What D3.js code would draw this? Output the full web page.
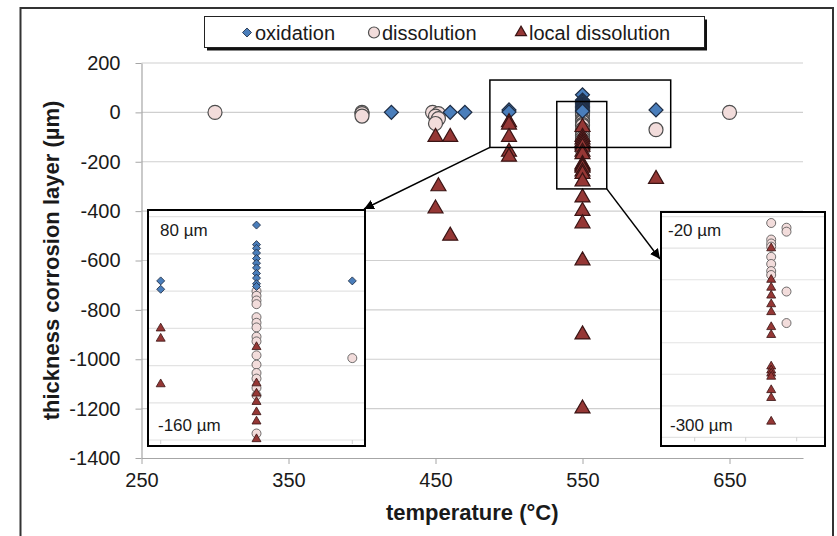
<!DOCTYPE html>
<html>
<head>
<meta charset="utf-8">
<script src="https://cdn.jsdelivr.net/npm/d3@7"></script>
<style>
  body { margin:0; background:#fff; }
  text { font-family:"Liberation Sans", Arial, sans-serif; fill:#1a1a1a; }
</style>
</head>
<body>
<div id="chart"></div>
<script>
// main chart data: [temperature °C, thickness µm]
var oxidation = [[420,0],[460,0],[470,0],[500,10],[500,2],[550,71],[550,50],[550,46],[550,41],[550,35],
  [550,30],[550,25],[550,19],[550,14],[550,8],[550,5],[600,10]];
var dissolution = [[300,0],[400,0],[400,-5],[400,-15],[448,0],[452,-5],[450,-15],[452,-25],[450,-45],
  [550,0],[550,-5],[550,-10],[550,-14],[550,-28],[550,-34],[550,-39],[550,-49],[550,-54],[550,-69],
  [550,-79],[550,-88],[550,-94],[550,-104],[550,-112],[550,-153],[600,-70],[650,0]];
var localDissolution = [[450,-100],[460,-100],[452,-300],[450,-390],[460,-500],
  [500,-40],[500,-50],[500,-100],[500,-160],[500,-180],
  [550,-60],[550,-100],[550,-110],[550,-120],[550,-130],[550,-140],[550,-160],[550,-170],[550,-210],
  [550,-215],[550,-220],[550,-225],[550,-240],[550,-250],[550,-280],[550,-345],[550,-400],[550,-450],
  [550,-600],[550,-900],[550,-1200],[600,-270]];

// left inset (zoom of 500-600 °C, 80 to -160 µm)
var leftOx = [[500,11],[500,2],[550,71],[550,50],[550,46],[550,41],[550,35],[550,30],[550,25],[550,19],
  [550,14],[550,8],[550,5],[600,11]];
var leftDis = [[550,0],[550,-5],[550,-10],[550,-14],[550,-28],[550,-34],[550,-39],[550,-49],[550,-54],
  [550,-69],[550,-79],[550,-88],[550,-94],[550,-104],[550,-112],[550,-153],[600,-72]];
var leftLoc = [[500,-40],[500,-51],[500,-100],[550,-60],[550,-99],[550,-110],[550,-119],[550,-130],
  [550,-140],[550,-159]];
var leftTicks = [80,40,0,-40,-80,-120,-160];

// right inset (zoom of 550 °C, -20 to -300 µm)
var rightDis = [[550,-28],[550,-49],[550,-54],[550,-58],[550,-71],[550,-80],[550,-89],[550,-94],
  [553,-34],[553,-39],[553,-115],[553,-155]];
var rightLoc = [[550,-60],[550,-100],[550,-110],[550,-120],[550,-131],[550,-141],[550,-160],[550,-170],
  [550,-210],[550,-215],[550,-219],[550,-223],[550,-240],[550,-250],[550,-280]];
var rightTicks = [-20,-60,-100,-140,-180,-220,-260,-300];

var xTicks = [250,350,450,550,650];
var yTicks = [200,0,-200,-400,-600,-800,-1000,-1200,-1400];

// zoom boxes drawn on the main chart, data units [x0,x1,y0,y1]
var zoomBoxLeft = [487,610,131,-142];
var zoomBoxRight = [532.5,566.5,44,-310];

var W = 837, H = 536;
var svg = d3.select("#chart").append("svg").attr("width", W).attr("height", H);

var x = d3.scaleLinear().domain([250,700]).range([141.5,803]);
var y = d3.scaleLinear().domain([-1400,200]).range([458,63]);

var colOx = "#4a7ebb", colDis = "#f2dcdb", colLoc = "#953735";

// outer frame
svg.append("path").attr("d","M20.5,536V8H833V536").attr("fill","none").attr("stroke","#333").attr("stroke-width",2);

// gridlines
svg.append("g").selectAll("line").data(yTicks.slice(0,-1)).enter().append("line")
  .attr("x1",x(250)).attr("x2",x(700)).attr("y1",d=>y(d)).attr("y2",d=>y(d))
  .attr("stroke","#cfcfcf").attr("stroke-width",1.2);

// axes (plain hyphen minus, no thousands separator)
var gx = svg.append("g").attr("transform","translate(0,"+y(-1400)+")")
  .call(d3.axisBottom(x).tickValues(xTicks).tickFormat(d=>String(d)).tickSize(6).tickPadding(9).tickSizeOuter(0));
var gy = svg.append("g").attr("transform","translate("+x(250)+",0)")
  .call(d3.axisLeft(y).tickValues(yTicks).tickFormat(d=>String(d)).tickSize(6).tickPadding(15).tickSizeOuter(0));
[gx,gy].forEach(function(g){
  g.select(".domain").attr("stroke","#a6a6a6").attr("stroke-width",1.2);
  g.selectAll(".tick line").attr("stroke","#a6a6a6");
  g.selectAll("text").attr("font-family","Liberation Sans, Arial, sans-serif").attr("font-size",20).attr("fill","#1a1a1a");
});

svg.append("text").attr("x",(x(250)+x(700))/2).attr("y",520).attr("text-anchor","middle")
  .attr("font-size",22).attr("font-weight","bold").text("temperature (°C)");
svg.append("text").attr("transform","translate(59,"+(y(-600))+") rotate(-90)").attr("text-anchor","middle")
  .attr("font-size",22).attr("font-weight","bold").text("thickness corrosion layer (µm)");

// marker helpers
function drawSeries(g, data, sx, sy, kind, s){
  var sym, fill, stroke, rot = 0;
  if (kind=="ox"){ sym = d3.symbol().type(d3.symbolSquare).size(s*s/2); fill=colOx; stroke="#1f2d44"; rot=45; }
  else if (kind=="dis"){ sym = d3.symbol().type(d3.symbolCircle).size(Math.PI*s*s/4); fill=colDis; stroke="#4d4d4d"; }
  else { sym = d3.symbol().type(d3.symbolTriangle).size(3*Math.sqrt(3)*Math.pow(s/(2*Math.sqrt(3)),2)); fill=colLoc; stroke="#3a1414"; }
  g.selectAll(null).data(data).enter().append("path")
    .attr("d", sym)
    .attr("transform", d=>"translate("+sx(d[0])+","+sy(d[1])+") rotate("+rot+")")
    .attr("fill", fill).attr("stroke", stroke).attr("stroke-width", s>10?1.2:0.8);
}

var pts = svg.append("g");
drawSeries(pts, dissolution, x, y, "dis", 14);
drawSeries(pts, oxidation, x, y, "ox", 14);
drawSeries(pts, localDissolution, x, y, "loc", 15);

// zoom boxes and arrows
[zoomBoxLeft, zoomBoxRight].forEach(function(b){
  svg.append("rect").attr("x",x(b[0])).attr("y",y(b[2])).attr("width",x(b[1])-x(b[0])).attr("height",y(b[3])-y(b[2]))
    .attr("fill","none").attr("stroke","#000").attr("stroke-width",1.5);
});

svg.append("defs").append("marker").attr("id","arr").attr("viewBox","0 0 10 10").attr("refX",10).attr("refY",5)
  .attr("markerWidth",10).attr("markerHeight",10).attr("markerUnits","userSpaceOnUse").attr("orient","auto")
  .append("path").attr("d","M0,0L10,5L0,10z").attr("fill","#000");

// insets
var leftBox = {x0:148, x1:365, y0:210, y1:446};
var rightBox = {x0:661, x1:825, y0:212, y1:446};

svg.append("line").attr("x1",x(zoomBoxLeft[0])).attr("y1",y(zoomBoxLeft[3])).attr("x2",leftBox.x1-1).attr("y2",leftBox.y0-1)
  .attr("stroke","#000").attr("stroke-width",1.5).attr("marker-end","url(#arr)");
svg.append("line").attr("x1",x(zoomBoxRight[1])).attr("y1",y(zoomBoxRight[3])).attr("x2",rightBox.x0-1).attr("y2",259)
  .attr("stroke","#000").attr("stroke-width",1.5).attr("marker-end","url(#arr)");

function drawInset(box, sx, sy, gridVals, tickVals, ox, dis, loc, topLabel, botLabel){
  var g = svg.append("g");
  g.append("rect").attr("x",box.x0).attr("y",box.y0).attr("width",box.x1-box.x0).attr("height",box.y1-box.y0).attr("fill","#fff");
  g.selectAll(".gl").data(gridVals).enter().append("line")
    .attr("x1",box.x0).attr("x2",box.x1).attr("y1",d=>sy(d)).attr("y2",d=>sy(d))
    .attr("stroke","#e3e3e3").attr("stroke-width",1.2);
  var last = gridVals[gridVals.length-1];
  g.selectAll(".tk").data(tickVals).enter().append("line")
    .attr("x1",d=>sx(d)).attr("x2",d=>sx(d)).attr("y1",sy(last)).attr("y2",sy(last)+4)
    .attr("stroke","#d0d0d0");
  if (dis) drawSeries(g, dis, sx, sy, "dis", 9);
  if (ox) drawSeries(g, ox, sx, sy, "ox", 8);
  if (loc) drawSeries(g, loc, sx, sy, "loc", 9);
  g.append("text").attr("x",box.x0+topLabel[1]).attr("y",236).attr("font-family","Lato, sans-serif").attr("font-size",17).text(topLabel[0]);
  g.append("text").attr("x",box.x0+botLabel[1]).attr("y",431).attr("font-family","Lato, sans-serif").attr("font-size",17).text(botLabel[0]);
  g.append("rect").attr("x",box.x0).attr("y",box.y0).attr("width",box.x1-box.x0).attr("height",box.y1-box.y0)
    .attr("fill","none").attr("stroke","#000").attr("stroke-width",2);
}

var xL = d3.scaleLinear().domain([500,600]).range([160.7,352.3]);
var yL = d3.scaleLinear().domain([80,-160]).range([216.7,440]);
drawInset(leftBox, xL, yL, leftTicks, [500,600], leftOx, leftDis, leftLoc, ["80 µm",12], ["-160 µm",10]);

var xR = d3.scaleLinear().domain([545,555]).range([745.7,796.7]);
var yR = d3.scaleLinear().domain([-20,-300]).range([216.7,437.3]);
drawInset(rightBox, xR, yR, rightTicks, [535,545,555], null, rightDis, rightLoc, ["-20 µm",7], ["-300 µm",9]);

// legend
var lg = svg.append("g");
lg.append("rect").attr("x",207).attr("y",19.5).attr("width",500).attr("height",31).attr("fill","#111");
lg.append("rect").attr("x",204.5).attr("y",16.5).attr("width",500).attr("height",31).attr("fill","#fff").attr("stroke","#222").attr("stroke-width",1);
var legItems = [["ox","oxidation",247],["dis","dissolution",374],["loc","local dissolution",521]];
legItems.forEach(function(it){
  var s = it[0]=="ox" ? 9 : 11;
  drawSeries(lg, [[0,0]], v=>it[2], v=>32.5, it[0], s);
  lg.append("text").attr("x",it[2]+8).attr("y",39.5).attr("font-size",20).text(it[1]);
});
</script>
</body>
</html>
